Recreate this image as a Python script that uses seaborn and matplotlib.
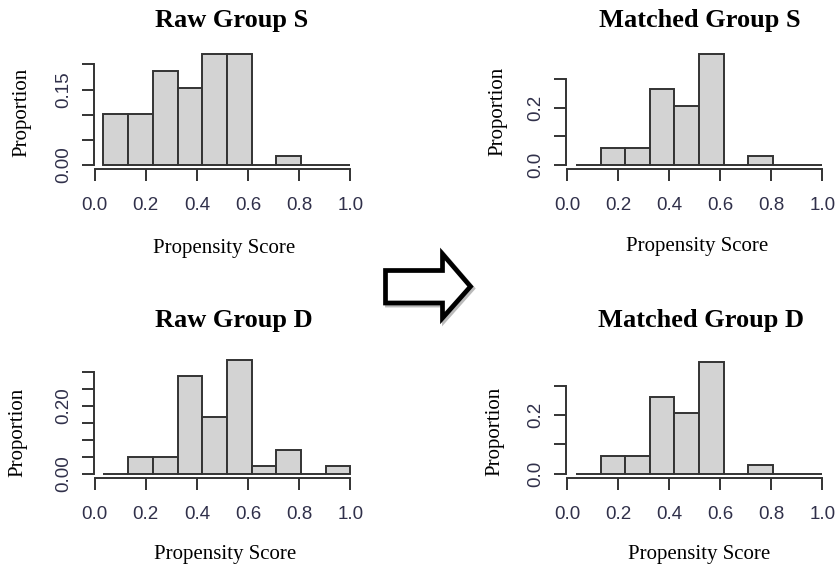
import numpy as np
import pandas as pd
import matplotlib
matplotlib.use("Agg")
import matplotlib.pyplot as plt
from matplotlib.patches import Polygon
import seaborn as sns

# histogram bins (propensity score) shared by every panel
bin_edges = [0.034, 0.131, 0.227, 0.324, 0.420, 0.517, 0.614, 0.710, 0.807, 0.903, 1.0]

# proportion of units per bin
raw_s = [0.102, 0.102, 0.186, 0.153, 0.220, 0.220, 0.0, 0.017, 0.0, 0.0]
raw_d = [0.0, 0.048, 0.048, 0.286, 0.167, 0.333, 0.024, 0.071, 0.0, 0.024]
matched_s = [0.0, 0.060, 0.060, 0.266, 0.206, 0.388, 0.0, 0.030, 0.0, 0.0]
matched_d = [0.0, 0.059, 0.059, 0.261, 0.206, 0.380, 0.0, 0.031, 0.0, 0.0]

titles = ["Raw Group S", "Raw Group D", "Matched Group S", "Matched Group D"]
x_ticks = [0.0, 0.2, 0.4, 0.6, 0.8, 1.0]
x_ticklabels = ["0.0", "0.2", "0.4", "0.6", "0.8", "1.0"]
raw_s_yticks = [0.00, 0.05, 0.10, 0.15, 0.20]
raw_s_ylabels = ["0.00", "", "", "0.15", ""]
raw_d_yticks = [0.00, 0.05, 0.10, 0.15, 0.20, 0.25, 0.30]
raw_d_ylabels = ["0.00", "", "", "", "0.20", "", ""]
matched_yticks = [0.0, 0.1, 0.2, 0.3]
matched_ylabels = ["0.0", "", "0.2", ""]

W, H = 837, 574
sns.set_style("ticks")

fig = plt.figure(figsize=(W / 100, H / 100), dpi=100)
fig.patch.set_facecolor("white")

def fx(px):
    return px / W

def fy(py):
    return 1 - py / H

# pixel layout per panel: data origin, px per unit, and text anchors
panels = [
    dict(props=raw_s, yt=raw_s_yticks, yl=raw_s_ylabels,
         x0=94.7, sx=255.7, y0=165.0, sy=503.3,
         title=(232, 21), ylab=(21.7, 112.7), xlab=(224.2, 248.3)),
    dict(props=raw_d, yt=raw_d_yticks, yl=raw_d_ylabels,
         x0=94.7, sx=255.7, y0=473.7, sy=340.0,
         title=(233.5, 321), ylab=(18.3, 432.5), xlab=(225, 555)),
    dict(props=matched_s, yt=matched_yticks, yl=matched_ylabels,
         x0=567.3, sx=255.0, y0=165.0, sy=286.7,
         title=(699.7, 21), ylab=(497.5, 111.7), xlab=(697.5, 246.7)),
    dict(props=matched_d, yt=matched_yticks, yl=matched_ylabels,
         x0=567.3, sx=255.0, y0=473.7, sy=293.3,
         title=(701.3, 321), ylab=(495, 431.7), xlab=(699, 555)),
]

line_col = "#333333"
tick_col = "#30304a"
serif = "Liberation Serif"
sans = "Liberation Sans"

for title, p in zip(titles, panels):
    # R style limits: data range extended by 4 percent
    rng = bin_edges[-1] - bin_edges[0]
    xlim = (bin_edges[0] - 0.04 * rng, bin_edges[-1] + 0.04 * rng)
    ymax = max(p["props"])
    ylim = (-0.04 * ymax, 1.04 * ymax)

    left = p["x0"] + xlim[0] * p["sx"]
    right = p["x0"] + xlim[1] * p["sx"]
    bottom = p["y0"] - ylim[0] * p["sy"]
    top = p["y0"] - ylim[1] * p["sy"]
    ax = fig.add_axes([fx(left), fy(bottom), fx(right) - fx(left), (bottom - top) / H])

    centers = [(a + b) / 2 for a, b in zip(bin_edges[:-1], bin_edges[1:])]
    df = pd.DataFrame({"score": centers, "prop": p["props"]})
    sns.histplot(data=df, x="score", weights="prop", bins=bin_edges, stat="count",
                 color="#d3d3d3", edgecolor=line_col, linewidth=1.4, alpha=1, ax=ax)

    ax.set_xlim(*xlim)
    ax.set_ylim(*ylim)
    ax.set_facecolor("white")
    for side in ["top", "right"]:
        ax.spines[side].set_visible(False)
    for side in ["left", "bottom"]:
        ax.spines[side].set_color(line_col)
        ax.spines[side].set_linewidth(1.4)
    ax.spines["bottom"].set_bounds(x_ticks[0], x_ticks[-1])
    ax.spines["left"].set_bounds(p["yt"][0], p["yt"][-1])

    ax.set_xticks(x_ticks, x_ticklabels)
    ax.set_yticks(p["yt"], p["yl"], rotation=90, va="center")
    ax.tick_params(axis="both", direction="out", length=8.4, width=1.4,
                   color=line_col, labelcolor=tick_col, labelsize=13.5)
    ax.tick_params(axis="x", pad=11.5)
    ax.tick_params(axis="y", pad=7)
    for lab in ax.get_xticklabels() + ax.get_yticklabels():
        lab.set_family(sans)

    ax.set_xlabel("")
    ax.set_ylabel("")
    fig.text(fx(p["title"][0]), fy(p["title"][1]), title, ha="center", va="center",
             family=serif, fontweight="bold", fontsize=19, color="black")
    fig.text(fx(p["ylab"][0]), fy(p["ylab"][1]), "Proportion", ha="center", va="center",
             rotation=90, family=serif, fontsize=15, color="black")
    fig.text(fx(p["xlab"][0]), fy(p["xlab"][1]), "Propensity Score", ha="center",
             va="center", family=serif, fontsize=15, color="black")

# hollow arrow between raw and matched panels
arrow_px = [(385.5, 270.5), (442.5, 270.5), (442.5, 254), (470.5, 286.5),
            (442.5, 318), (442.5, 303), (385.5, 303)]
shadow = Polygon([(fx(x + 2), fy(y + 2)) for x, y in arrow_px], closed=True,
                 transform=fig.transFigure, facecolor="none", edgecolor="#bbbbbb",
                 linewidth=3.5, joinstyle="miter")
arrow = Polygon([(fx(x), fy(y)) for x, y in arrow_px], closed=True,
                transform=fig.transFigure, facecolor="white", edgecolor="black",
                linewidth=3.4, joinstyle="miter")
fig.patches.extend([shadow, arrow])

fig.savefig("out.png", dpi=100, facecolor="white")
